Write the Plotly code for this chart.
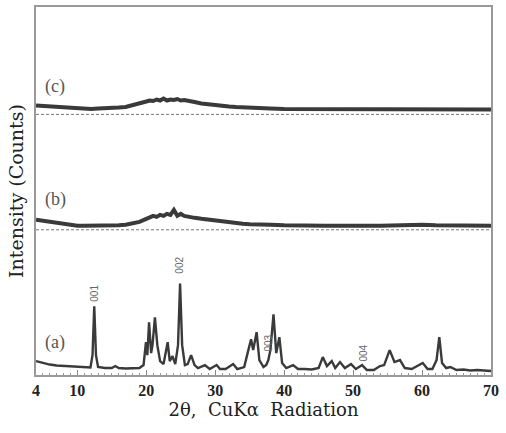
import plotly.graph_objects as go

# Trace (a): crystalline pattern (2theta, intensity offset units)
a_x = [4, 5, 6, 7, 8, 9, 10, 11, 11.9, 12.2, 12.45, 12.7, 13.0, 14, 15, 15.5, 16, 17, 18, 19, 19.6,
       19.95, 20.15, 20.4, 20.7, 20.9, 21.25, 21.6, 22.0, 22.5, 23.1, 23.4, 23.8, 24.2, 24.6, 24.9,
       25.2, 25.6, 26.0, 26.5, 27.0, 27.5, 28.5, 29.2, 30.2, 30.7, 31.5, 32.6, 33.2, 34.2, 34.8,
       35.2, 35.5, 36.0, 36.4, 37.0, 37.4, 37.7, 38.0, 38.45, 38.85, 39.3, 39.7, 40.3, 41.3, 42,
       43, 44, 45, 45.6, 46.2, 46.9, 47.4, 48.1, 48.8, 49.7, 50.4, 51.3, 52, 53, 53.9, 54.5, 55.3,
       56.0, 56.8, 57.5, 58.5, 60.1, 60.8, 61.5, 62.1, 62.5, 62.9, 63.5, 64.1, 65, 66, 67, 68, 69, 70]
a_y = [14, 12, 10.5, 9.5, 9, 8.5, 8, 7.5, 7.5, 20, 69, 20, 8, 7, 7, 9, 7, 6.5, 6.5, 7, 10,
       33, 20, 53, 22, 30, 58, 30, 14, 11, 33, 14, 19, 11, 30, 92,
       30, 10, 11, 20, 10, 7, 10, 6, 10, 6, 6, 11, 6, 8, 25,
       36, 25, 43, 15, 8, 10, 15, 25, 61, 22, 38, 12, 7, 10, 6,
       6, 5.5, 7, 18, 9, 14, 7, 13, 7, 11, 6, 10, 5, 5, 9, 10, 25,
       13, 15, 7, 6, 12, 6, 6, 15, 38, 12, 7, 8, 5, 5.5, 4.5, 5, 4.5, 4]

# Trace (b): amorphous hump
b_x = [4, 5, 6, 7, 8, 9, 10, 11, 12, 13, 14, 15, 16, 17, 18, 19, 20, 20.5, 21, 21.5, 22, 22.5,
       23, 23.5, 24, 24.5, 25, 25.5, 26, 27, 28, 29, 30, 31, 32, 33, 34, 35, 36, 38, 40, 42, 44,
       46, 48, 50, 52, 54, 56, 58, 60, 62, 64, 66, 68, 70]
b_y = [156, 155, 154, 153, 152, 151, 150, 150, 150, 149.5, 150, 150, 150.5, 151, 152, 154, 157,
       158, 160, 159, 161, 160, 162, 161, 166, 160, 162, 160, 159, 158, 157, 156, 155, 154, 153.5,
       153, 152, 151.5, 151, 151, 150.5, 150, 150, 150, 150, 149.5, 150, 150, 150.5, 151, 151,
       150.5, 150.5, 150, 150, 150]

# Trace (c): amorphous hump
c_x = [4, 5, 6, 7, 8, 9, 10, 11, 12, 13, 14, 15, 16, 17, 18, 19, 19.5, 20, 20.5, 21, 21.5, 22,
       22.5, 23, 23.5, 24, 24.5, 25, 25.5, 26, 26.5, 27, 28, 29, 30, 31, 32, 33, 34, 36, 38, 40,
       42, 44, 46, 48, 50, 52, 54, 56, 58, 60, 62, 64, 66, 68, 70]
c_y = [271, 270.5, 270, 269, 268.5, 268, 267.5, 267.5, 267.5, 268, 268, 268.5, 269, 269.5, 271,
       273, 274, 275, 276, 275.5, 277, 276, 278, 276, 277, 276.5, 277.5, 276, 276.5, 275.5, 275,
       274.5, 273, 272, 271, 270.5, 270, 269.5, 269, 268.5, 268, 267.5, 267.5, 267, 267, 267,
       267, 266.5, 267, 267, 266.5, 267, 267, 267, 266.5, 267, 267]

dash_levels = [146, 262]
sample_labels = ["(a)", "(b)", "(c)"]
sample_label_y = [33, 176, 290]

peak_labels = ["001", "002", "003", "004"]
peak_label_x = [12.45, 24.9, 37.7, 51.5]
peak_label_y = [82, 110, 32, 22]

xticks = [4, 10, 20, 30, 40, 50, 60, 70]

line_col = "#3a3a3a"
fig = go.Figure()
for xs, ys, w in [(a_x, a_y, 2.4), (b_x, b_y, 4), (c_x, c_y, 4)]:
    fig.add_trace(go.Scatter(x=xs, y=ys, mode="lines",
                             line=dict(color=line_col, width=w), showlegend=False))
for lv in dash_levels:
    fig.add_trace(go.Scatter(x=[4, 70], y=[lv, lv], mode="lines",
                             line=dict(color="#777", width=1, dash="3px,2px"), showlegend=False))

for t, yv in zip(sample_labels, sample_label_y):
    fig.add_annotation(x=5.0, y=yv, text=t, showarrow=False, xanchor="left",
                       font=dict(family="Liberation Serif", size=18, color="#555"))
for t, xv, yv in zip(peak_labels, peak_label_x, peak_label_y):
    fig.add_annotation(x=xv, y=yv, text=t, showarrow=False, textangle=-90,
                       font=dict(family="Liberation Sans", size=10, color="#666"))

fig.update_layout(
    width=506, height=433,
    margin=dict(l=36, r=15, t=5, b=58),
    paper_bgcolor="white", plot_bgcolor="white",
    xaxis=dict(range=[4, 70], tickvals=xticks, ticktext=[str(v) for v in xticks],
               ticks="inside", ticklen=5, tickcolor="#888", showgrid=False, zeroline=False,
               showline=True, linecolor="#999", linewidth=1.5, mirror=True,
               minor=dict(ticks="inside", ticklen=2, dtick=1, tickcolor="#999", showgrid=False),
               tickfont=dict(family="Liberation Serif", size=16, color="#222", weight="bold"),
               title=dict(text="2θ,  CuKα  Radiation", standoff=3,
                          font=dict(family="DejaVu Serif", size=18, color="#222"))),
    yaxis=dict(range=[0, 370], showticklabels=False, ticks="", showgrid=False, zeroline=False,
               showline=True, linecolor="#999", linewidth=1.5, mirror=True,
               title=dict(text="Intensity (Counts)", standoff=6,
                          font=dict(family="DejaVu Serif", size=19, color="#222"))),
)
fig.write_html("out.html", config={"displayModeBar": False},
               post_script="document.body.style.margin='0';")
